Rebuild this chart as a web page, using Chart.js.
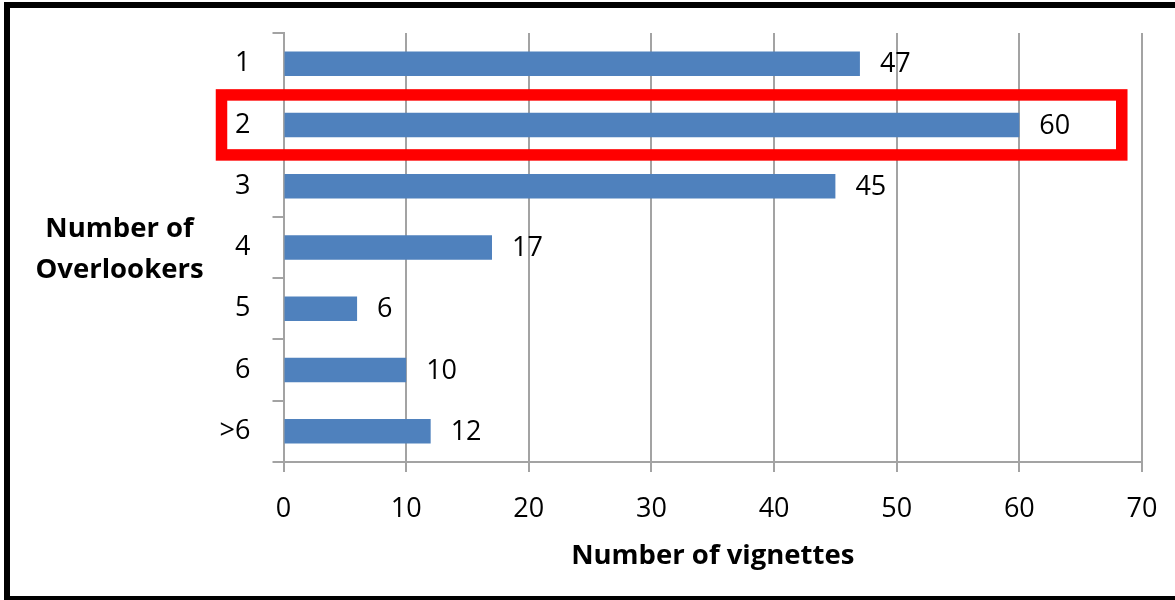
<!DOCTYPE html>
<html>
<head>
<meta charset="utf-8">
<script src="https://cdn.jsdelivr.net/npm/chart.js@4.4.1/dist/chart.umd.min.js"></script>
<style>
  html, body { margin: 0; padding: 0; background: #fff; overflow: hidden; }
  #wrap { position: relative; width: 1175px; height: 600px; }
  #myChart { position: absolute; left: 0; top: 0; }
  /* black frame round the figure, its right side runs off the page */
  #frame {
    position: absolute; left: 4px; top: 2px; width: 1200px; height: 600px;
    box-sizing: border-box; border: 6px solid #000; pointer-events: none;
  }
</style>
</head>
<body>
<div id="wrap">
  <canvas id="myChart" width="1175" height="600"></canvas>
  <div id="frame"></div>
</div>
<script>
// categories (number of overlookers) and counts of vignettes
var overlookers = ['1', '2', '3', '4', '5', '6', '>6'];
var vignettes = [47, 60, 45, 17, 6, 10, 12];
var xTicks = [0, 10, 20, 30, 40, 50, 60, 70];

var xTitle = 'Number of vignettes';
var yTitle = ['Number of', 'Overlookers'];

// row that gets the red box, and where the box ends on the value axis
var highlightRow = 1;
var highlightEnd = 68.35;

var gridGray = '#a3a3a3';
var font = 'Open Sans';

// value labels, axis titles and the red box
var extras = {
    id: 'extras',
    afterDatasetsDraw: function (chart) {
        var c = chart.ctx;
        var xs = chart.scales.x;
        var ys = chart.scales.y;
        var area = chart.chartArea;
        c.save();

        // numbers at the end of each bar
        c.fillStyle = '#000';
        c.font = '27px "' + font + '"';
        c.textAlign = 'left';
        c.textBaseline = 'middle';
        vignettes.forEach(function (v, i) {
            c.fillText(String(v), xs.getPixelForValue(v) + 20, ys.getPixelForValue(i) + 1);
        });

        // axis titles
        c.font = 'bold 27.5px "' + font + '"';
        c.textAlign = 'center';
        c.fillText(xTitle, (area.left + area.right) / 2, 556);
        var midY = (area.top + area.bottom) / 2;
        c.fillText(yTitle[0], 119.5, midY - 18);
        c.fillText(yTitle[1], 119.5, midY + 23);

        // red box round the highlighted row
        var cy = ys.getPixelForValue(highlightRow);
        var left = xs.getPixelForValue(0) - 62;
        var right = xs.getPixelForValue(highlightEnd);
        c.strokeStyle = '#ff0000';
        c.lineWidth = 11.5;
        c.strokeRect(left, cy - 30, right - left, 60);
        c.restore();
    }
};

var ctx = document.getElementById('myChart').getContext('2d');

var myChart = new Chart(ctx, {
    type: 'bar',
    data: {
        labels: overlookers,
        datasets: [{
            data: vignettes,
            backgroundColor: '#4f81bd',
            borderWidth: 0,
            categoryPercentage: 1,
            barPercentage: 0.4
        }]
    },
    options: {
        indexAxis: 'y',
        responsive: false,
        animation: false,
        devicePixelRatio: 1,
        layout: {
            padding: { left: 0, top: 33, right: 33, bottom: 0 }
        },
        plugins: {
            legend: { display: false },
            tooltip: { enabled: false }
        },
        scales: {
            x: {
                min: 0,
                max: 70,
                afterBuildTicks: function (axis) {
                    axis.ticks = xTicks.map(function (v) { return { value: v }; });
                },
                // fixed height; the plot edges come from layout.padding only
                afterFit: function (axis) {
                    axis.height = 138;
                    axis.paddingLeft = 0;
                    axis.paddingRight = 0;
                },
                grid: {
                    color: gridGray,
                    lineWidth: 2,
                    tickLength: 10
                },
                border: { color: gridGray, width: 2 },
                ticks: {
                    color: '#000',
                    padding: 21,
                    font: { family: font, size: 27 }
                }
            },
            y: {
                afterFit: function (axis) {
                    axis.width = 283.5;
                    axis.paddingTop = 0;
                    axis.paddingBottom = 0;
                },
                grid: {
                    offset: true,
                    drawOnChartArea: false,
                    color: gridGray,
                    lineWidth: 2,
                    tickLength: 11
                },
                border: { color: gridGray, width: 2 },
                ticks: {
                    color: '#000',
                    padding: 22,
                    font: { family: font, size: 27 }
                }
            }
        }
    },
    plugins: [extras]
});
</script>
</body>
</html>
